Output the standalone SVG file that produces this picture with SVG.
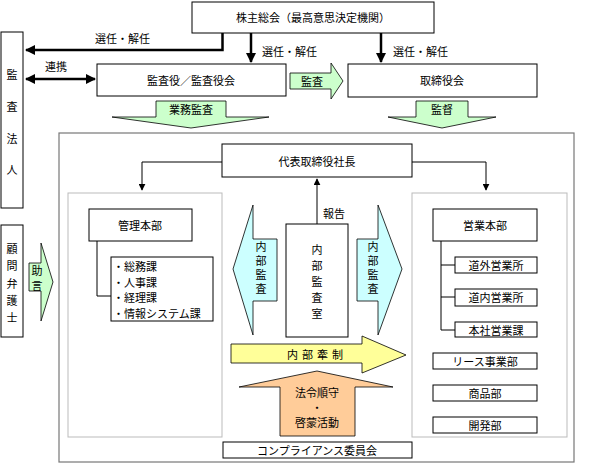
<svg xmlns="http://www.w3.org/2000/svg" width="589" height="464" viewBox="0 0 589 464">
<defs>
<style>
text{font-family:"Noto Sans CJK JP","Noto Sans CJK SC",sans-serif;font-size:11px;fill:#000;dominant-baseline:central}
.c{text-anchor:middle}
.v{writing-mode:vertical-rl;text-anchor:start}
.box{fill:#fff;stroke:#000;stroke-width:1}
.frame{fill:#fff;stroke:#777;stroke-width:1.2}
.inner{fill:#fff;stroke:#bbb;stroke-width:1}
.green{fill:#ccffcc;stroke:#000;stroke-width:0.8}
.cyan{fill:#ccffff;stroke:#000;stroke-width:0.8}
.yellow{fill:#ffff99;stroke:#000;stroke-width:0.8}
.orange{fill:#ffcc99;stroke:#000;stroke-width:0.8}
.thick{fill:none;stroke:#000;stroke-width:2.5}
.thin{fill:none;stroke:#000;stroke-width:1}
</style>
<marker id="ah" viewBox="0 0 10 10" refX="9" refY="5" markerWidth="4" markerHeight="4" orient="auto-start-reverse" markerUnits="strokeWidth"><path d="M0,0 L10,5 L0,10 z" fill="#000"/></marker>
<marker id="as" viewBox="0 0 10 10" refX="9" refY="5" markerWidth="7" markerHeight="7" orient="auto-start-reverse" markerUnits="strokeWidth"><path d="M0,0 L10,5 L0,10 z" fill="#000"/></marker>
</defs>

<g id="frame-main"><rect class="frame" x="59" y="133" width="515" height="329"/></g>
<g id="frame-left"><rect class="inner" x="68" y="193" width="154" height="244"/></g>
<g id="frame-right"><rect class="inner" x="412" y="193" width="155" height="244"/></g>

<g id="connectors">
<polyline class="thick" points="222.5,33 222.5,50 26,50" marker-end="url(#ah)"/>
<line class="thick" x1="251" y1="33" x2="251" y2="62" marker-end="url(#ah)"/>
<line class="thick" x1="381" y1="33" x2="381" y2="62" marker-end="url(#ah)"/>
<line class="thick" x1="26" y1="79" x2="95" y2="79" marker-start="url(#ah)" marker-end="url(#ah)"/>
<polyline class="thin" points="222,162 142,162 142,190" marker-end="url(#as)"/>
<polyline class="thin" points="412,162 486,162 486,190" marker-end="url(#as)"/>
<line class="thin" x1="317" y1="224" x2="317" y2="179" marker-end="url(#as)"/>
<polyline class="thin" points="97,241 97,296 111,296"/>
<polyline class="thin" points="441,241 441,330 455,330"/>
<line class="thin" x1="441" y1="265" x2="455" y2="265"/>
<line class="thin" x1="441" y1="297" x2="455" y2="297"/>
<text x="95" y="38">選任・解任</text>
<text x="262" y="51">選任・解任</text>
<text x="393" y="51">選任・解任</text>
<text x="45" y="66">連携</text>
<text x="323" y="213">報告</text>
</g>

<g id="kabunushi"><rect class="box" x="192" y="2" width="242" height="31"/><text class="c" x="313" y="17">株主総会（最高意思決定機関）</text></g>
<g id="kansa-houjin"><rect class="box" x="1" y="32" width="22" height="176"/>
<text class="v" x="12" y="69.5" letter-spacing="20.7">監査法人</text></g>
<g id="komon"><rect class="box" x="1" y="225" width="22" height="112"/>
<text class="v" x="12" y="243.5" letter-spacing="6.3">顧問弁護士</text></g>
<g id="kansayaku"><rect class="box" x="97" y="64" width="189" height="32"/><text class="c" x="191" y="80">監査役／監査役会</text></g>
<g id="torishimariyaku"><rect class="box" x="348" y="64" width="189" height="33"/><text class="c" x="442" y="80">取締役会</text></g>

<g id="arrow-gyomu"><polygon class="green" points="156,101 226,101 226,117 269,117 191,128 112,117 156,117"/><text class="c" x="191" y="109">業務監査</text></g>
<g id="arrow-kantoku"><polygon class="green" points="416,101 468,101 468,117 496,117 442,128 388,117 416,117"/><text class="c" x="442" y="109">監督</text></g>
<g id="arrow-kansa"><polygon class="green" points="290,73 331,73 331,63 343,81 331,99 331,89 290,89"/><text class="c" x="312" y="81">監査</text></g>
<g id="arrow-jogen"><polygon class="green" points="29,263 41,263 41,243 53,282 41,321 41,291 29,291"/><text class="v" x="37" y="265.5" letter-spacing="4">助言</text></g>

<g id="shacho"><rect class="box" x="222" y="144" width="190" height="33"/><text class="c" x="317" y="161">代表取締役社長</text></g>

<g id="kanri"><rect class="box" x="89" y="209" width="103" height="32"/><text class="c" x="140" y="225">管理本部</text></g>
<g id="kanri-list"><rect class="box" x="111" y="257" width="102" height="64"/>
<text x="113" y="266">・総務課</text><text x="113" y="282">・人事課</text><text x="113" y="297">・経理課</text><text x="113" y="313">・情報システム課</text></g>

<g id="arrow-naibu-left"><polygon class="cyan" points="233,269 253,205 253,239 277,239 277,301 253,301 253,335"/>
<text class="v" x="261" y="241.5" letter-spacing="3">内部監査</text></g>
<g id="naibu-kansashitsu"><rect class="box" x="286" y="224" width="62" height="113"/>
<text class="v" x="317" y="244.5" letter-spacing="5">内部監査室</text></g>
<g id="arrow-naibu-right"><polygon class="cyan" points="357,239 378,239 378,205 402,269 378,335 378,301 357,301"/>
<text class="v" x="373" y="241.5" letter-spacing="3">内部監査</text></g>

<g id="arrow-naibu-kensei"><polygon class="yellow" points="231,344 362,344 362,336 406,355 362,373 362,363 231,363"/><text class="c" x="317" y="354" letter-spacing="4">内部牽制</text></g>
<g id="arrow-hourei"><polygon class="orange" points="317,371 393,387 355,387 355,436 280,436 280,387 239,387"/>
<text class="c" x="317" y="392">法令順守</text><text class="c" x="317" y="407" font-size="9">・</text><text class="c" x="317" y="422">啓蒙活動</text></g>
<g id="compliance"><rect class="box" x="223" y="442" width="189" height="16"/><text class="c" x="317" y="450">コンプライアンス委員会</text></g>

<g id="eigyo"><rect class="box" x="433" y="209" width="104" height="32"/><text class="c" x="485" y="225">営業本部</text></g>
<g id="dogai"><rect class="box" x="455" y="257" width="82" height="16"/><text class="c" x="496" y="265">道外営業所</text></g>
<g id="donai"><rect class="box" x="455" y="289" width="82" height="17"/><text class="c" x="496" y="297">道内営業所</text></g>
<g id="honsha"><rect class="box" x="455" y="322" width="82" height="15"/><text class="c" x="496" y="330">本社営業課</text></g>
<g id="lease"><rect class="box" x="433" y="353" width="104" height="16"/><text class="c" x="485" y="361">リース事業部</text></g>
<g id="shohin"><rect class="box" x="433" y="385" width="104" height="16"/><text class="c" x="485" y="393">商品部</text></g>
<g id="kaihatsu"><rect class="box" x="433" y="417" width="104" height="16"/><text class="c" x="485" y="425">開発部</text></g>
</svg>
